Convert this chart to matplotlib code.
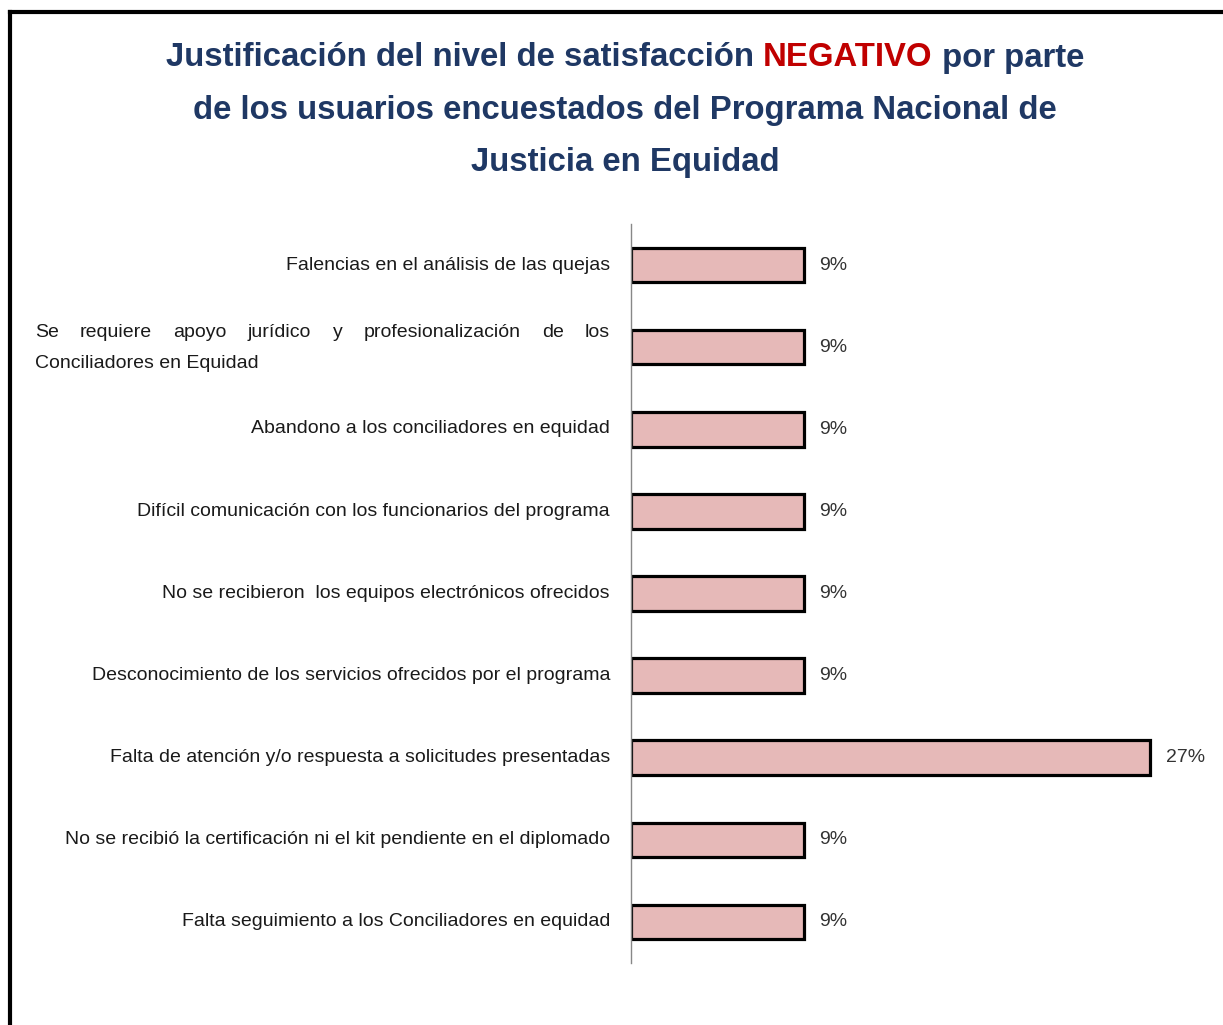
import matplotlib.pyplot as plt
from matplotlib.lines import Line2D

plt.rcParams['font.family'] = ['Liberation Sans', 'DejaVu Sans']

# data (top to bottom)
categorias = [
    "Falencias en el análisis de las quejas",
    "Se requiere apoyo jurídico y profesionalización de los Conciliadores en Equidad",
    "Abandono a los conciliadores en equidad",
    "Difícil comunicación con los funcionarios del programa",
    "No se recibieron  los equipos electrónicos ofrecidos",
    "Desconocimiento de los servicios ofrecidos por el programa",
    "Falta de atención y/o respuesta a solicitudes presentadas",
    "No se recibió la certificación ni el kit pendiente en el diplomado",
    "Falta seguimiento a los Conciliadores en equidad",
]
valores = [9, 9, 9, 9, 9, 9, 27, 9, 9]
etiquetas = ["9%", "9%", "9%", "9%", "9%", "9%", "27%", "9%", "9%"]

navy = '#1F3864'
red = '#C00000'

W, H = 1223, 1025
fig = plt.figure(figsize=(W / 100, H / 100), dpi=100)
ax = fig.add_axes([631 / W, 1 - 963 / H, (1208 - 631) / W, (963 - 224) / H])

y = list(range(len(categorias)))
ax.barh(y, valores, height=0.42, color='#E6B9B8', edgecolor='black', linewidth=2.3)
ax.set_ylim(len(categorias) - 0.5, -0.5)
ax.set_xlim(0, 30)
for s in ['top', 'right', 'bottom']:
    ax.spines[s].set_visible(False)
ax.spines['left'].set_color('#888888')
ax.spines['left'].set_linewidth(1)
ax.set_xticks([])
ax.set_yticks([])

for yi, v, t in zip(y, valores, etiquetas):
    ax.annotate(t, (v, yi), xytext=(11, 0), textcoords='offset points',
                ha='left', va='center', fontsize=14, color='#333333')

fig.canvas.draw()
r = fig.canvas.get_renderer()
lbl_fs = 14
xr = 610 / W
for yi, c in zip(y, categorias):
    yf = 1 - (265 + 82 * yi) / H
    if c.startswith("Se requiere"):
        # first line justified, second line left-aligned
        words = "Se requiere apoyo jurídico y profesionalización de los".split()
        x0, x1 = 35 / W, xr
        ws = []
        for w in words:
            tt = fig.text(0, 0, w, fontsize=lbl_fs)
            ws.append(tt.get_window_extent(r).width / W)
            tt.remove()
        gap = (x1 - x0 - sum(ws)) / (len(words) - 1)
        xx = x0
        for w, wd in zip(words, ws):
            fig.text(xx, 1 - 332 / H, w, fontsize=lbl_fs, color='#1a1a1a', va='center')
            xx += wd + gap
        fig.text(x0, 1 - 363 / H, "Conciliadores en Equidad", fontsize=lbl_fs,
                 color='#1a1a1a', va='center')
    else:
        fig.text(xr, yf, c, fontsize=lbl_fs, color='#1a1a1a', ha='right', va='center')

# title with a red word
tfs = 23.7
lines = [
    [("Justificación del nivel de satisfacción ", navy), ("NEGATIVO", red), (" por parte", navy)],
    [("de los usuarios encuestados del Programa Nacional de", navy)],
    [("Justicia en Equidad", navy)],
]
ty = [58, 111, 162]
for parts, yy in zip(lines, ty):
    widths = []
    for s, col in parts:
        tt = fig.text(0, 0, s, fontsize=tfs, fontweight='bold')
        widths.append(tt.get_window_extent(r).width / W)
        tt.remove()
    xx = 625 / W - sum(widths) / 2
    for (s, col), wd in zip(parts, widths):
        fig.text(xx, 1 - yy / H, s, fontsize=tfs, fontweight='bold', color=col,
                 ha='left', va='center')
        xx += wd

# frame
fig.add_artist(Line2D([10 / W, 10 / W], [0, 1 - 12 / H], color='black', lw=3,
                      transform=fig.transFigure))
fig.add_artist(Line2D([10 / W, 1], [1 - 12 / H, 1 - 12 / H], color='black', lw=3,
                      transform=fig.transFigure))

fig.savefig('out.png', dpi=100)
